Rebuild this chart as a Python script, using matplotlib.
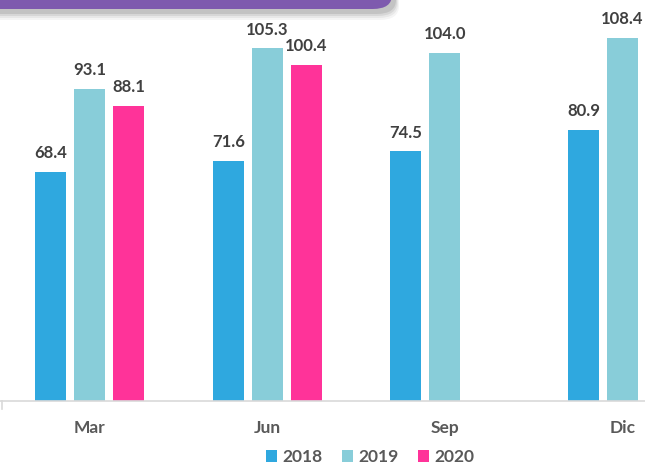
import matplotlib
matplotlib.use("Agg")
import matplotlib.pyplot as plt
import numpy as np
from matplotlib.patches import FancyBboxPatch

categories = ["Mar", "Jun", "Sep", "Dic"]
years = ["2018", "2019", "2020"]
v2018 = [68.4, 71.6, 74.5, 80.9]
v2019 = [93.1, 105.3, 104.0, 108.4]
v2020 = [88.1, 100.4, None, None]
colors = ["#2FA8DF", "#88CDD9", "#FF3399"]

plt.rcParams['font.family'] = ['Lato', 'DejaVu Sans']

fig = plt.figure(figsize=(6.45, 4.68), dpi=100)
W, H = 645, 468
base_y = 401
ax = fig.add_axes([0, (H - base_y) / H, 1, base_y / H])

x = np.arange(len(categories))
bw = 31 / 177.5
off = 39 / 177.5
series = [v2018, v2019, v2020]
for i, (vals, c, yr) in enumerate(zip(series, colors, years)):
    xs = [xi + (i - 1) * off for xi, v in zip(x, vals) if v is not None]
    ys = [v for v in vals if v is not None]
    ax.bar(xs, ys, width=bw, color=c, label=yr, zorder=2)
    for xx, yy in zip(xs, ys):
        ax.text(xx, yy + 3.2, f"{yy:.1f}", ha="center", va="bottom",
                fontsize=12, fontweight="bold", color="#404040")

ax.set_xlim(-0.507, 3.127)
ax.set_ylim(0, base_y / 3.35)
for s in ["top", "right", "left"]:
    ax.spines[s].set_visible(False)
ax.spines["bottom"].set_color("#d9d9d9")
ax.spines["bottom"].set_linewidth(1.2)
ax.set_yticks([])
ax.set_xticks(x)
ax.set_xticklabels(categories, fontsize=12.5, fontweight="bold", color="#595959")
ax.tick_params(axis="x", length=0, pad=14)
ax.patch.set_visible(False)
# small left tick
ax.plot([-0.497, -0.497], [0, -2.5], color="#d9d9d9", lw=1.2, clip_on=False)

# legend
handles, labels = ax.get_legend_handles_labels()
leg = fig.legend(handles, labels, loc="center", bbox_to_anchor=(370 / W, 1 - 457 / H),
                 ncol=3, frameon=False, fontsize=12.5, handlelength=0.65, handleheight=0.65,
                 handletextpad=0.3, columnspacing=1.1, borderaxespad=0, borderpad=0)
for t in leg.get_texts():
    t.set_color("#595959")
    t.set_fontweight("bold")

# purple banner with shadow
for k, a in enumerate([0.04, 0.05, 0.07, 0.09]):
    sh = FancyBboxPatch((-40 / W, (H - 12 - 2 * (4 - k)) / H), (435 + (4 - k)) / W, 60 / H,
                        boxstyle="round,pad=0,rounding_size=0.03", transform=fig.transFigure,
                        facecolor="black", edgecolor="none", alpha=a, zorder=5)
    fig.add_artist(sh)
ban = FancyBboxPatch((-40 / W, (H - 9) / H), 432 / W, 60 / H,
                     boxstyle="round,pad=0,rounding_size=0.03", transform=fig.transFigure,
                     facecolor="#7E5AAE", edgecolor="none", zorder=6)
fig.add_artist(ban)

fig.savefig("out.png", dpi=100)
